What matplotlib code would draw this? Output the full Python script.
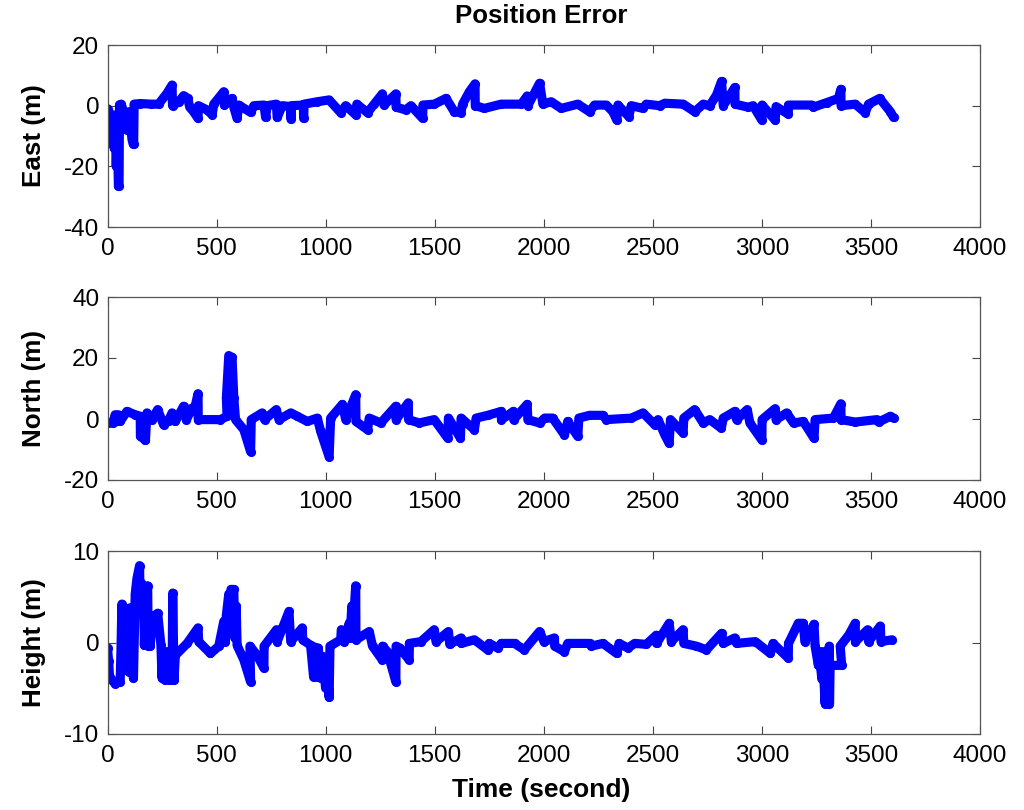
import matplotlib
matplotlib.use("Agg")
import matplotlib.pyplot as plt

plt.rcParams['font.family'] = ['Liberation Sans', 'DejaVu Sans']
plt.rcParams['axes.unicode_minus'] = False

east_t = [0,10,20,25,30,35,40,45,50,53,55,62,75,89,100,112,117,120,122,150,200,234,272,296,298,327,349,368,377,395,415,417,456,480,487,533,536,571,579,594,602,656,671,717,725,732,774,778,801,840,841,843,898,899,901,962,1016,1069,1092,1138,1143,1192,1223,1260,1268,1322,1323,1368,1391,1445,1446,1498,1552,1590,1620,1628,1659,1685,1686,1728,1805,1897,1924,1927,1981,1996,
          2034,2080,2156,2210,2233,2287,2317,2335,2340,2390,2401,2455,2470,2531,2555,2639,2692,2731,2761,2792,2815,2823,2876,2877,2937,2960,3000,3001,3061,3065,3121,3122,3229,3236,3297,3351,3362,3363,3428,3474,3489,3540,3589,3604]
east_v = [-1,-4,-9,-3,-14,-5,-20,-8,-26.5,-26.5,0.3,0.5,-2,-8,-2,-11,-12.5,-12.5,0.5,0.7,0.5,0.5,4,6.8,0,1.3,3.3,2.4,-0.5,-2,-4.2,0,-1.4,-3,0.5,4.6,0.2,2.4,-0.5,-4.2,0.2,-2.2,0,0.2,-3.9,0,0.5,-3.9,0,-0.3,-4.5,0,0.2,-4.2,0.5,1.3,1.9,-2.3,0,-3,0.5,-2.3,0.5,3.9,0.2,3.9,-0.5,-1.4,0,-4.2,0.2,0.5,2.4,-2,-2.3,0.5,4.6,7.2,0,-0.9,0.5,0.5,3.2,0,7.4,0.5,
          1.3,-0.9,0.5,-2,0.2,0.2,-2,-4.8,0.2,-3.6,0,-0.9,0.5,0,0.8,0.5,-2,0.5,0,3.5,8,0,6,0.5,-0.5,0,-4.8,0.2,-4.8,-0.3,-2.8,0.2,0.2,-0.5,1,2.4,5.4,0,0.5,-2.3,0.5,2.4,-2,-3.9]

north_t = [0,25,35,42,50,58,89,127,150,151,173,174,181,204,230,257,280,296,311,349,362,388,400,415,416,518,548,545,556,571,579,587,625,656,659,709,720,774,786,840,870,916,962,977,1016,1023,1077,1092,1138,1139,1192,1200,1253,1322,1323,1379,1380,1429,1498,1560,1563,1618,1621,1682,1690,1743,1805,1806,1861,1862,1924,1927,1981,2004,
           2041,2095,2110,2156,2161,2210,2271,2287,2401,2455,2509,2524,2555,2575,2581,2639,2642,2692,2731,2761,2814,2823,2876,2884,2933,2945,3000,3001,3061,3065,3114,3145,3190,3239,3244,3328,3362,3363,3428,3528,3535,3589,3604]
north_v = [-1.3,-1.3,1.4,-0.8,1.4,-0.8,2.5,1.4,0.9,-5.7,-6.9,-6.9,2,-0.2,3.1,-1.9,-0.5,2,-0.8,4.2,-0.2,3.6,3.6,8.3,-0.2,-0.2,0.9,7,20.8,20.2,7,-0.2,-3.5,-10.7,-0.2,2,-0.2,3.1,-0.2,2,0.9,-0.8,0.3,-4,-12.4,0.3,4.8,-0.2,8,-0.8,-3.5,0.3,-1.3,4.2,-0.2,5.3,-0.2,-1.3,-0.2,-6.3,0.3,-6.3,0.3,-3.5,0.3,1.2,2.5,-0.2,2.5,-0.2,4.8,-0.2,-1.3,0.3,
           0.3,-5.2,-0.8,-5.7,0.3,1.2,1.2,-0.2,0.3,2,-1.9,-0.2,-5.2,-8,-0.2,-4.6,0.3,3.1,-1.3,-0.2,-3,0.3,2.5,-0.2,3.1,-1.3,-6.9,-0.2,3.4,-0.2,2,-1.3,-0.8,-6.3,-0.2,0.3,5,-0.2,-1,-0.2,-1,0.9,0.3]

height_t = [0,5,9,20,35,58,62,66,70,77,85,97,104,119,127,135,147,150,155,158,165,169,178,184,187,196,204,230,245,250,255,262,270,280,285,296,299,305,311,365,415,418,472,510,533,540,545,556,560,566,579,583,590,594,625,656,653,686,717,718,775,778,832,840,893,895,931,945,950,965,966,977,985,1000,1005,1016,1020,1069,1072,1085,1108,1112,1120,1125,1138,1139,1200,1215,1260,1261,1283,1322,1323,1340,1383,1384,1437,1498,1506,1563,1569,1621,1622,1682,1743,1750,1789,1805,1866,1911,1981,2001,
            2049,2050,2095,2110,2210,2218,2271,2335,2345,2386,2417,2470,2516,2517,2575,2585,2639,2642,2700,2746,2815,2823,2876,2884,2970,3039,3051,3121,3122,3167,3190,3197,3239,3244,3259,3262,3275,3278,3290,3295,3304,3309,3310,3313,3328,3366,3359,3398,3428,3429,3485,3489,3543,3546,3597]
height_v = [-0.6,-2,-3.6,-4.1,-4.5,-4.3,-0.6,4.2,-3,3.8,-2,-3.2,3.8,-3.9,5.3,7,8.4,3.5,6.5,3.4,5.5,-0.3,5.5,6.2,-0.4,-0.4,2.7,3.2,-0.3,-3.9,-1,-4.1,-1,-4.1,-1,-4.1,5.4,-4.1,-1.4,-0.1,1.6,0.1,-1.2,-0.4,2.3,0.1,3,5.3,2,5.8,5.8,0.5,4,-0.3,-1.9,-4.3,-0.4,-1.4,-2.8,-0.4,1.4,0.1,3.4,0.1,1.6,0.3,-0.3,-3.8,-0.5,-3.8,-0.6,-3.9,-1.5,-5,-2,-6,-0.4,0.3,1.4,0.1,2.1,0.5,4,1.5,6.2,0.3,1.2,-0.4,-1.9,-0.4,-1,-4.3,-0.4,-0.6,-1.9,-0.1,0.1,1.4,0.1,1.2,-0.2,0.5,-0.1,0.3,-0.8,-0.1,-0.6,-0.1,-0.1,-0.8,1.2,0.1,
            0.5,-0.4,-1,-0.1,-0.1,-0.4,-0.1,-1.2,-0.1,-0.6,-0.1,-0.2,0.8,-0.1,2.1,0.1,1.4,-0.1,-0.4,-0.8,1,-0.1,0.5,-0.1,0.1,-1.2,-0.1,-1.7,-0.1,2.1,2.1,0.1,2,-0.4,-2.5,-1,-4,-1,-6.7,-1,-6.7,-0.4,-6.7,-2.5,-2.5,-2.5,-0.4,0.8,2.1,0.1,1.4,0.1,1.8,0.1,0.3]

x_ticks = [0,500,1000,1500,2000,2500,3000,3500,4000]
x_limits = (0,4000)
panels = [
    ("East (m)", east_t, east_v, (-40,20), [-40,-20,0,20]),
    ("North (m)", north_t, north_v, (-20,40), [-20,0,20,40]),
    ("Height (m)", height_t, height_v, (-10,10), [-10,0,10]),
]
boxes_px = [(45,227),(297,480),(551,734)]

W,H = 1024,810
fig = plt.figure(figsize=(W/100,H/100),dpi=100,facecolor='white')
left,right = 107.5,980.0
axes=[]
for (label,t,v,yl,yt),(top,bot) in zip(panels,boxes_px):
    ax = fig.add_axes([left/W,1-bot/H,(right-left)/W,(bot-top)/H])
    ax.plot(t,v,color='#0000ff',lw=6.6,marker='o',ms=6.6,mew=0,
            solid_joinstyle='round',solid_capstyle='round')
    ax.set_xlim(*x_limits); ax.set_ylim(*yl)
    ax.set_xticks(x_ticks); ax.set_yticks(yt)
    ax.tick_params(direction='in',length=6,width=0.8,top=True,right=True,labelsize=17.5,color='#444444')
    ax.tick_params(axis='x',pad=8)
    ax.tick_params(axis='y',pad=6)
    for s in ax.spines.values():
        s.set_linewidth(0.9); s.set_color('#555555')
    ax.set_ylabel(label,fontsize=18.7,fontweight='bold')
    ax.yaxis.set_label_coords(-0.071,0.5)
    axes.append(ax)
axes[0].set_title("Position Error",fontsize=18.6,fontweight='bold',pad=16)
axes[0].title.set_x(0.497)
axes[2].set_xlabel("Time (second)",fontsize=19,fontweight='bold')
axes[2].xaxis.set_label_coords(0.497,-0.24)
fig.savefig('out.png',dpi=100)
